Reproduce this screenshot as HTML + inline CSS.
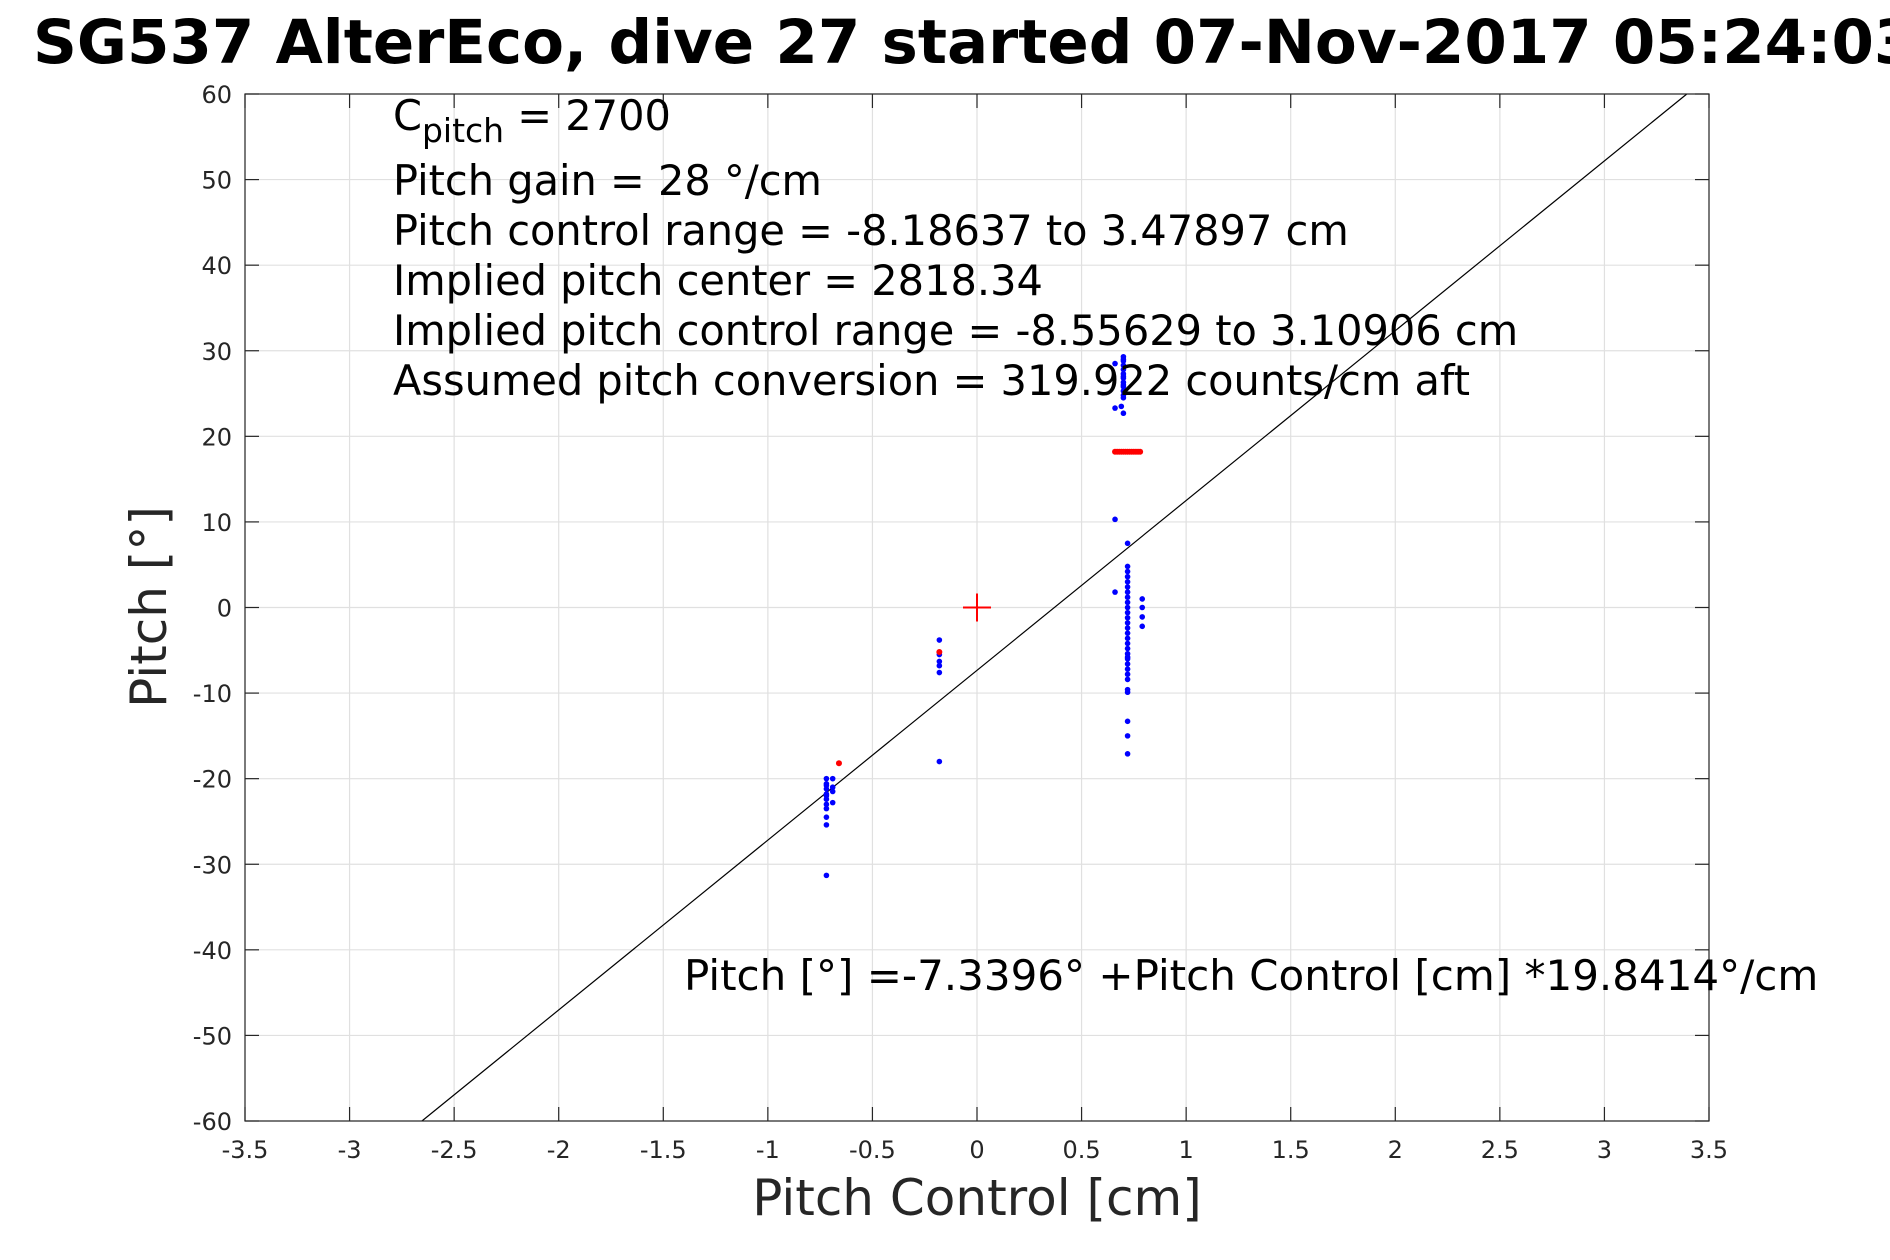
<!DOCTYPE html>
<html><head><meta charset="utf-8"><style>
html,body{margin:0;padding:0;background:#fff}
svg{display:block}
text{font-family:"DejaVu Sans","Liberation Sans",sans-serif}
</style></head><body>
<svg id="chart" width="1890" height="1260" viewBox="0 0 1890 1260" xmlns="http://www.w3.org/2000/svg">
<rect width="1890" height="1260" fill="#fff"/>
<text x="33" y="63" font-size="61" font-weight="bold" fill="#000">SG537 AlterEco, dive 27 started 07-Nov-2017 05:24:03</text>
<g id="grid"></g>
<g id="ticks"></g>
<g id="marks"></g>
<rect x="245" y="94" width="1464" height="1027" fill="none" stroke="#262626" stroke-width="1.2"/>
<g font-size="41.5" fill="#000">
<text x="393" y="130">C<tspan font-size="33" dy="12">pitch</tspan><tspan dy="-12"> = 2700</tspan></text>
<text x="393" y="195">Pitch gain = 28 °/cm</text>
<text x="393" y="245">Pitch control range = -8.18637 to 3.47897 cm</text>
<text x="393" y="295">Implied pitch center = 2818.34</text>
<text x="393" y="345">Implied pitch control range = -8.55629 to 3.10906 cm</text>
<text x="393" y="395">Assumed pitch conversion = 319.922 counts/cm aft</text>
</g>
<text x="684" y="990" font-size="42" fill="#000">Pitch [°] =-7.3396° +Pitch Control [cm] *19.8414°/cm</text>
<text x="977" y="1215" font-size="50" text-anchor="middle" fill="#262626">Pitch Control [cm]</text>
<text transform="translate(166,607) rotate(-90)" font-size="50" text-anchor="middle" fill="#262626">Pitch [°]</text>
</svg>
<script>
const xTicks=[-3.5,-3,-2.5,-2,-1.5,-1,-0.5,0,0.5,1,1.5,2,2.5,3,3.5];
const yTicks=[-60,-50,-40,-30,-20,-10,0,10,20,30,40,50,60];
const fitIntercept=-7.3396;
const fitSlope=19.8414;
const blueX=[0.70,0.70,0.70,0.70,0.70,0.70,0.70,0.70,0.70,0.70,0.70,0.70,0.70,0.70,0.66,0.66,0.69,0.70,0.66,0.66,
0.72,0.72,0.72,0.72,0.72,0.72,0.72,0.72,0.72,0.72,0.72,0.72,0.72,0.72,0.72,0.72,0.72,0.72,0.72,0.72,0.72,0.72,0.72,0.72,0.72,0.72,0.72,0.72,0.72,0.72,
0.79,0.79,0.79,0.79,
-0.18,-0.18,-0.18,-0.18,-0.18,-0.18,
-0.72,-0.72,-0.72,-0.72,-0.72,-0.72,-0.72,-0.72,-0.72,-0.72,-0.72,-0.72,-0.69,-0.69,-0.69,-0.69];
const blueY=[29.3,28.8,28.3,27.8,27.3,26.8,26.3,25.8,25.3,24.8,26,27,24.5,29,28.5,23.3,23.5,22.7,10.3,1.8,
7.5,4.8,4.2,3.6,3,2.4,1.8,1.2,0.6,0,-0.6,-1.2,-1.8,-2.4,-3,-3.6,-4.2,-4.8,-5.4,-6,-6.6,-7.2,-7.8,-8.4,-9.6,-9.9,-13.3,-15,-17.1,-5.8,
1,0,-1.1,-2.2,
-3.8,-5.5,-6.3,-6.8,-7.6,-18,
-20,-20.6,-21.2,-21.8,-22.4,-23,-23.5,-24.5,-25.4,-31.3,-22,-20.8,-20,-21,-21.5,-22.8];
const redX=[-0.66,-0.18,0.66,0.67,0.68,0.69,0.70,0.71,0.72,0.73,0.74,0.75,0.76,0.77,0.78];
const redY=[-18.2,-5.2,18.2,18.2,18.2,18.2,18.2,18.2,18.2,18.2,18.2,18.2,18.2,18.2,18.2];
const centerX=[0];
const centerY=[0];
const L=245,R=1709,T=94,B=1121;
const sx=v=>L+(v+3.5)/7*(R-L);
const sy=v=>B-(v+60)/120*(B-T);
const NS='http://www.w3.org/2000/svg';
function mk(tag,attrs,parent){const e=document.createElementNS(NS,tag);for(const k in attrs)e.setAttribute(k,attrs[k]);parent.appendChild(e);return e;}
const grid=document.getElementById('grid'),ticks=document.getElementById('ticks'),marks=document.getElementById('marks');
xTicks.forEach(v=>{const x=sx(v);
const g=mk('line',{x1:x,x2:x,y1:T,y2:B,stroke:'#e0e0e0','stroke-width':1.2},grid);


mk('line',{x1:x,x2:x,y1:B,y2:B-14,stroke:'#262626','stroke-width':1.2},ticks);
mk('line',{x1:x,x2:x,y1:T,y2:T+14,stroke:'#262626','stroke-width':1.2},ticks);
const t=mk('text',{x:x,y:B+37,'font-size':24,'text-anchor':'middle',fill:'#262626'},ticks);


t.textContent=String(v);});
yTicks.forEach(v=>{const y=sy(v);
const g=mk('line',{x1:L,x2:R,y1:y,y2:y,stroke:'#e0e0e0','stroke-width':1.2},grid);


mk('line',{x1:L,x2:L+14,y1:y,y2:y,stroke:'#262626','stroke-width':1.2},ticks);
mk('line',{x1:R,x2:R-14,y1:y,y2:y,stroke:'#262626','stroke-width':1.2},ticks);
const t=mk('text',{x:L-13,y:y+9,'font-size':24,'text-anchor':'end',fill:'#262626'},ticks);


t.textContent=String(v);});
const x0=(-60-fitIntercept)/fitSlope,x1=(60-fitIntercept)/fitSlope;
const fl=mk('line',{x1:sx(Math.max(-3.5,x0)),y1:sy(fitIntercept+fitSlope*Math.max(-3.5,x0)),x2:sx(Math.min(3.5,x1)),y2:sy(fitIntercept+fitSlope*Math.min(3.5,x1)),stroke:'#000','stroke-width':1.2},marks);


blueX.forEach((v,i)=>{const c=mk('circle',{cx:sx(v),cy:sy(blueY[i]),r:2.8,fill:'#0000ff'},marks);

});
redX.forEach((v,i)=>{const c=mk('circle',{cx:sx(v),cy:sy(redY[i]),r:3,fill:'#ff0000'},marks);

});
centerX.forEach((v,i)=>{const x=sx(v),y=sy(centerY[i]);
const g=mk('g',{stroke:'#ff0000','stroke-width':2},marks);


mk('line',{x1:x-14,x2:x+14,y1:y,y2:y},g);mk('line',{x1:x,x2:x,y1:y-14,y2:y+14},g);});
</script>
</body></html>
